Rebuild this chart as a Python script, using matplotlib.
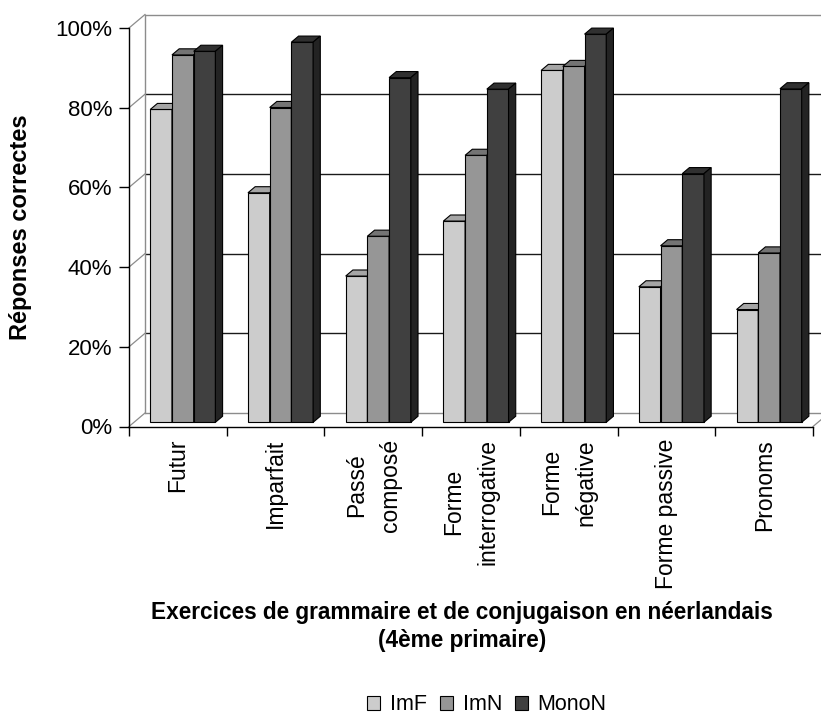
import matplotlib
matplotlib.use("Agg")
import matplotlib.pyplot as plt
from matplotlib.patches import Polygon
from matplotlib.ticker import FuncFormatter

# ---- data -------------------------------------------------------------
categories = ["Futur", "Imparfait", "Passé\ncomposé", "Forme\ninterrogative",
              "Forme\nnégative", "Forme passive", "Pronoms"]
series_names = ["ImF", "ImN", "MonoN"]
imf = [78.5, 57.6, 36.7, 50.5, 88.3, 34.0, 28.3]
imn = [92.2, 79.0, 46.7, 67.0, 89.3, 44.3, 42.5]
monon = [93.1, 95.4, 86.5, 83.6, 97.4, 62.4, 83.7]
y_ticks = [0, 20, 40, 60, 80, 100]

y_title = "Réponses correctes"
x_title = "Exercices de grammaire et de conjugaison en néerlandais\n(4ème primaire)"

# ---- styling ----------------------------------------------------------
front_colors = ["#CCCCCC", "#969696", "#404040"]
top_colors = ["#A5A5A5", "#747474", "#303030"]
side_colors = ["#9E9E9E", "#6A6A6A", "#232323"]
wall_grey = "#8C8C8C"

plt.rcParams["font.family"] = ["Liberation Sans", "DejaVu Sans"]

W, H = 821, 718
fig = plt.figure(figsize=(W / 100, H / 100), dpi=100)

# front plane of the 3-D box, in pixels
px_left, px_right = 129, 813
px_top, px_bottom = 28, 426.5
ax = fig.add_axes([px_left / W, 1 - px_bottom / H,
                   (px_right - px_left) / W, (px_bottom - px_top) / H])
n = len(categories)
ax.set_xlim(0, n)
ax.set_ylim(0, 100)

# oblique depth offset (full depth of the box) in data units
px_per_cat = (px_right - px_left) / n
px_per_pct = (px_bottom - px_top) / 100
DX = 16 / px_per_cat
DY = 13.5 / px_per_pct

# bars occupy a slab inside the box depth
f0, f1 = 0.31, 0.76
gap = 0.5
w = 1 / (3 + gap * 3)
group_off = (1 - 3 * w) / 2

# ---- walls ------------------------------------------------------------
for v in y_ticks:
    c = wall_grey if v in (0, 100) else "#1A1A1A"
    ax.plot([DX, n + DX], [v + DY, v + DY], color=c, lw=1.0,
            clip_on=False, zorder=1, solid_capstyle="butt")
    ax.plot([0, DX], [v, v + DY], color=wall_grey, lw=0.9,
            clip_on=False, zorder=1)
ax.plot([DX, DX], [DY, 100 + DY], color=wall_grey, lw=1.0,
        clip_on=False, zorder=1)
ax.plot([n, n + DX], [0, DY], color=wall_grey, lw=0.9,
        clip_on=False, zorder=1)

# ---- bars -------------------------------------------------------------
bdx = (f1 - f0) * DX
bdy = (f1 - f0) * DY
base = f0 * DY
handles = []
for j, vals in enumerate([imf, imn, monon]):
    lefts = [i + group_off + j * w + f0 * DX for i in range(n)]
    bars = ax.bar(lefts, vals, width=w, bottom=base, align="edge",
                  color=front_colors[j], edgecolor="black", linewidth=0.8,
                  zorder=3 + j, label=series_names[j], clip_on=False)
    handles.append(bars)
    for l, v in zip(lefts, vals):
        top = base + v
        ax.add_patch(Polygon([(l, top), (l + w, top), (l + w + bdx, top + bdy),
                              (l + bdx, top + bdy)], closed=True,
                             facecolor=top_colors[j], edgecolor="black",
                             linewidth=0.8, zorder=3 + j + 0.1, clip_on=False))
        ax.add_patch(Polygon([(l + w, base), (l + w, top),
                              (l + w + bdx, top + bdy), (l + w + bdx, base + bdy)],
                             closed=True, facecolor=side_colors[j],
                             edgecolor="black", linewidth=0.8,
                             zorder=3 + j + 0.2, clip_on=False))

# ---- axes, ticks, labels ---------------------------------------------
for s in ("top", "right"):
    ax.spines[s].set_visible(False)
for s in ("left", "bottom"):
    ax.spines[s].set_color("black")
    ax.spines[s].set_linewidth(1.0)
    ax.spines[s].set_zorder(2)

ax.set_yticks(y_ticks)
ax.yaxis.set_major_formatter(FuncFormatter(lambda v, p: f"{v:.0f}%"))
ax.tick_params(axis="y", direction="out", length=7, width=1, pad=5,
               labelsize=16, colors="black")

ax.set_xticks(range(n + 1))
ax.set_xticklabels([""] * (n + 1))
ax.tick_params(axis="x", which="major", direction="out", length=6.5, width=1)
ax.set_xticks([i + 0.5 for i in range(n)], categories, minor=True)
ax.tick_params(axis="x", which="minor", length=0, pad=9.0, labelsize=16.5,
               labelrotation=90)
for lbl in ax.get_xticklabels(minor=True):
    lbl.set_linespacing(1.6)

ax.set_ylabel(y_title, fontsize=17, fontweight="bold", va="center")
ax.yaxis.set_label_coords((21 - px_left) / (px_right - px_left), 0.5)

ax.set_xlabel(x_title, fontsize=16.3, fontweight="bold", linespacing=1.3,
              va="top")
ax.xaxis.set_label_coords((462 - px_left) / (px_right - px_left),
                          (px_bottom - 601) / (px_bottom - px_top))

fig.legend(handles=handles, labels=series_names, loc="center",
           bbox_to_anchor=(487 / W, 1 - 705 / H), ncol=3, frameon=False,
           fontsize=15.5, handlelength=0.6, handleheight=0.6,
           handletextpad=0.45, columnspacing=0.6, borderpad=0)

fig.savefig("out.png", dpi=100)
